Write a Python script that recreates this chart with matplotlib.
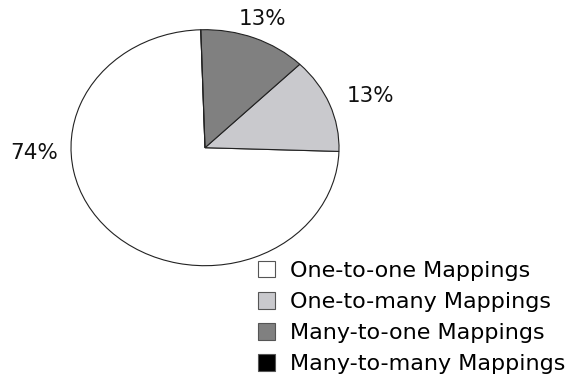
import numpy as np
import matplotlib.pyplot as plt

# mapping categories and their shares (percent)
categories = ["One-to-one Mappings", "One-to-many Mappings",
              "Many-to-one Mappings", "Many-to-many Mappings"]
shares = [74, 13, 13, 0]
colors = ["#ffffff", "#c9c9cd", "#808080", "#000000"]

W, H = 569, 379
fig = plt.figure(figsize=(W / 100, H / 100), dpi=100)
ax = fig.add_axes([0, 0, 1, 1])

wedges, _ = ax.pie(shares, colors=colors, startangle=91.8, counterclock=True,
                   wedgeprops=dict(edgecolor="#222222", linewidth=0.8))

# stretch the pie into an ellipse: 134 px wide radius, 118 px tall radius
cx, cy, rx, ry = 205, 147.7, 134, 118
ax.set_aspect("auto")
ax.set_xlim(-cx / rx, (W - cx) / rx)
ax.set_ylim(-(H - cy) / ry, cy / ry)
ax.axis("off")

# percentage labels outside the wedges
for w, v in zip(wedges, shares):
    if v == 0:
        continue
    if v > 50:
        ang, r = 182.0, 1.277
    else:
        ang = ((w.theta1 + w.theta2) / 2) % 360
        if ang > 45:
            r = 1.17
        else:
            ang, r = ang - 2, 1.31
    t = np.deg2rad(ang)
    ax.text(r * np.cos(t), r * np.sin(t), "%d%%" % v, ha="center", va="center",
            fontsize=15.5, color="#111111")

leg = fig.legend(wedges, categories, loc="upper left",
                 bbox_to_anchor=(258 / W, 1 - 261 / H), frameon=False,
                 fontsize=16, handlelength=0.75, handleheight=0.75,
                 handletextpad=0.7, labelspacing=0.5,
                 borderpad=0, borderaxespad=0)
for h in leg.legend_handles:
    h.set_edgecolor("#555555")
    h.set_linewidth(0.8)

fig.savefig("out.png", dpi=100)
